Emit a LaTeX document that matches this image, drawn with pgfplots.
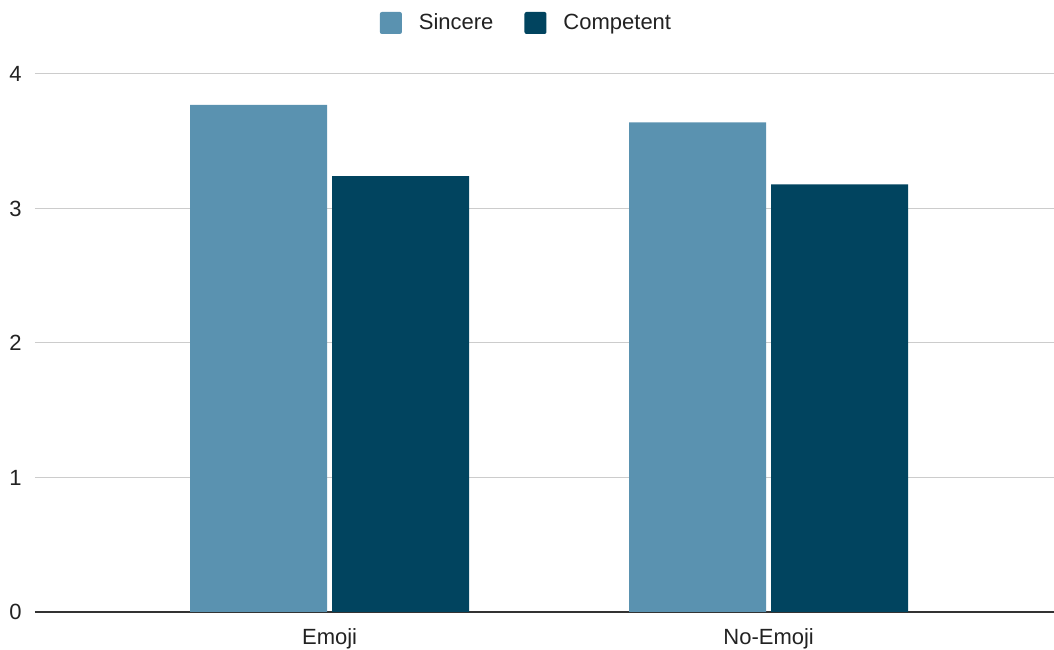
\documentclass[border=0pt]{standalone}
\usepackage{fontspec}
\setmainfont{Liberation Sans}
\usepackage{pgfplots}
\pgfplotsset{compat=1.18}
\usetikzlibrary{calc}
\definecolor{sinc}{HTML}{5A92B0}
\definecolor{comp}{HTML}{01445F}
\definecolor{gridc}{HTML}{CCCCCC}
\definecolor{txt}{HTML}{222222}
\begin{document}
\begin{tikzpicture}
\begin{axis}[
  scale only axis,
  width=509.5pt, height=269pt,
  xmin=-0.671, xmax=1.650,
  ymin=0, ymax=4,
  ytick={0,1,2,3,4},
  xtick={0,1},
  xticklabels={Emoji,No-Emoji},
  axis x line*=bottom,
  axis y line*=left,
  x axis line style={-, draw=black!80, line width=0.9pt},
  y axis line style={draw=none},
  major tick length=0pt,
  ymajorgrids,
  grid style={gridc, line width=0.5pt},
  /pgf/number format/assume math mode=true,
  tick label style={font=\fontsize{11}{13}\selectfont, text=txt},
  yticklabel style={inner sep=0pt, xshift=-6.5pt},
  xticklabel style={inner sep=0pt, yshift=-8pt},
  ybar, bar width=68.5pt,
  legend style={at={(0.5,1)}, anchor=south, yshift=20pt, xshift=-9.5pt, draw=none,
    inner sep=0pt, outer sep=0pt,
    font=\fontsize{11}{13}\selectfont, text=txt,
    legend columns=2, column sep=0pt,
    nodes={inner sep=0pt},
    /tikz/every odd column/.style={column sep=8.5pt},
    /tikz/every even column/.style={column sep=15.5pt}},
  legend image code/.code={\fill[#1, rounded corners=1pt] (0pt,-5.5pt) rectangle (11pt,5.5pt);},
]
\addplot[fill=sinc, draw=none, bar shift=-35.5pt] coordinates {(0,3.77) (1,3.64)};
\addplot[fill=comp, draw=none, bar shift=35.5pt] coordinates {(0,3.24) (1,3.18)};
\legend{Sincere,Competent}
\end{axis}
\pgfresetboundingbox
\path[use as bounding box] ($(current axis.south west)+(-17.5pt,-19pt)$) rectangle ($(current axis.north east)+(0,37pt)$);
\end{tikzpicture}
\end{document}
